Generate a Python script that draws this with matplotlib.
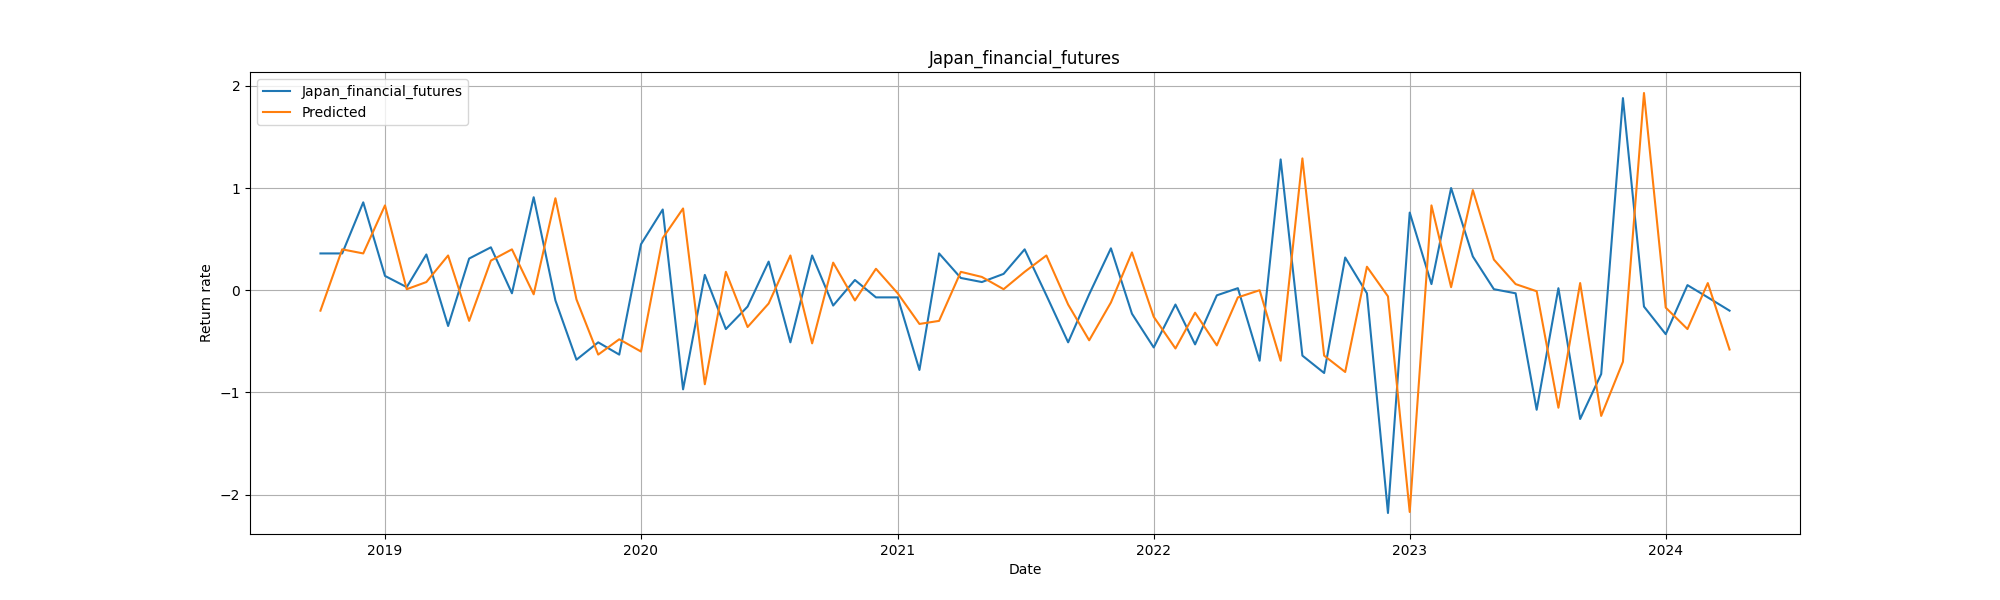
import matplotlib
matplotlib.use("Agg")
import matplotlib.pyplot as plt
import pandas as pd

start_month = "2018-10-01"
n_months = 67

actual = [0.36, 0.36, 0.86, 0.14, 0.03, 0.35, -0.35, 0.31, 0.42, -0.03,
          0.91, -0.10, -0.68, -0.51, -0.63, 0.45, 0.79, -0.97, 0.15, -0.38,
          -0.16, 0.28, -0.51, 0.34, -0.15, 0.10, -0.07, -0.07, -0.78, 0.36,
          0.12, 0.08, 0.16, 0.40, -0.05, -0.51, -0.04, 0.41, -0.23, -0.56,
          -0.14, -0.53, -0.05, 0.02, -0.69, 1.28, -0.64, -0.81, 0.32, -0.03,
          -2.18, 0.76, 0.06, 1.00, 0.33, 0.01, -0.03, -1.17, 0.02, -1.26,
          -0.82, 1.88, -0.16, -0.43, 0.05, -0.07, -0.20]

predicted = [-0.20, 0.40, 0.36, 0.83, 0.01, 0.08, 0.34, -0.30, 0.29, 0.40,
             -0.04, 0.90, -0.09, -0.63, -0.48, -0.60, 0.51, 0.80, -0.92, 0.18,
             -0.36, -0.13, 0.34, -0.52, 0.27, -0.10, 0.21, -0.03, -0.33, -0.30,
             0.18, 0.13, 0.01, 0.18, 0.34, -0.14, -0.49, -0.12, 0.37, -0.26,
             -0.57, -0.22, -0.54, -0.07, 0.00, -0.69, 1.29, -0.64, -0.80, 0.23,
             -0.06, -2.17, 0.83, 0.03, 0.98, 0.30, 0.06, -0.01, -1.15, 0.07,
             -1.23, -0.70, 1.93, -0.17, -0.38, 0.07, -0.58]

dates = pd.date_range(start_month, periods=n_months, freq="MS")

fig, ax = plt.subplots(figsize=(20, 6), dpi=100)
ax.plot(dates, actual, label="Japan_financial_futures")
ax.plot(dates, predicted, label="Predicted")
ax.set_title("Japan_financial_futures")
ax.set_xlabel("Date")
ax.set_ylabel("Return rate")
ax.legend(loc="upper left")
ax.grid(True)
fig.savefig("out.png")
